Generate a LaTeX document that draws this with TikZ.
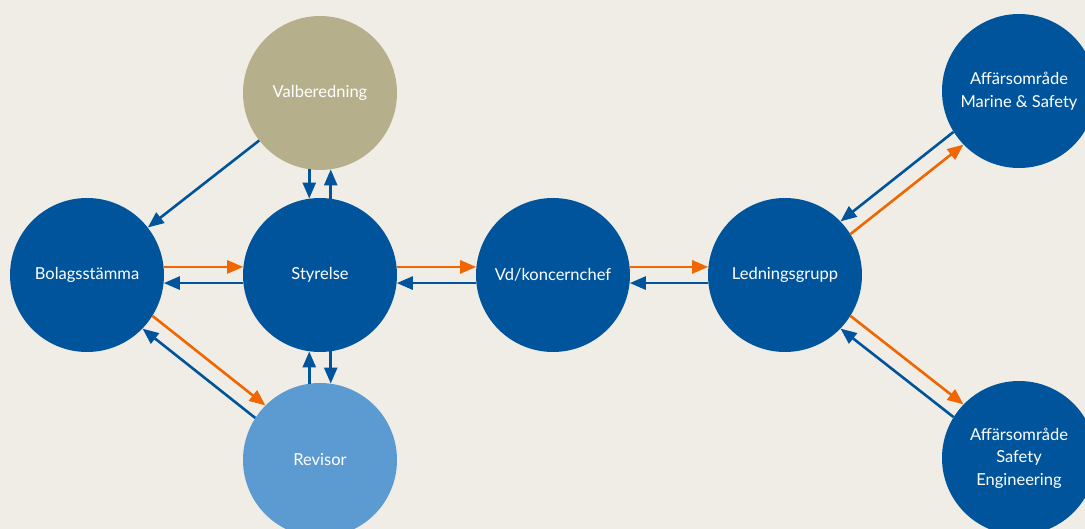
\documentclass[tikz,border=0pt]{standalone}
\usepackage{fontspec}
\setmainfont{Lato}
\usetikzlibrary{arrows.meta}

\definecolor{bgbeige}{RGB}{239,237,229}
\definecolor{govblue}{RGB}{0,84,155}
\definecolor{govolive}{RGB}{181,176,139}
\definecolor{govlight}{RGB}{91,155,210}
\definecolor{govorange}{RGB}{240,102,0}

\tikzset{
  unit/.style={circle, fill=govblue, text=white, minimum size=154pt,
    inner sep=0pt, align=center, font=\fontsize{16.5}{22.5}\selectfont},
  downarr/.style={govorange, line width=2.6pt,
    -{Triangle[length=16pt,width=13pt]}},
  uparr/.style={govblue, line width=2.6pt,
    -{Triangle[length=16pt,width=13pt]}},
}

\begin{document}
\begin{tikzpicture}[x=1pt,y=-1pt]

% Background and size of the page
\fill[bgbeige] (0,0) rectangle (1085,529);
\useasboundingbox (0,0) rectangle (1085,529);

% The bodies of the company
\node[unit, fill=govolive] (valb) at (320,93) {Valberedning};
\node[unit] (bolag) at (87,275) {Bolagsstämma};
\node[unit] (styr) at (320,275) {Styrelse};
\node[unit, fill=govlight] (rev) at (320,460) {Revisor};
\node[unit] (vd) at (553,275) {Vd/koncernchef};
\node[unit] (ledn) at (785,275) {Ledningsgrupp};
\node[unit] (marine) at (1019,91) {Affärsområde\\Marine \& Safety};
\node[unit] (eng) at (1019,458) {Affärsområde\\Safety\\Engineering};

% Orders go down the chain, reports come back
\draw[downarr] (bolag.6) -- (styr.174);
\draw[uparr] (styr.-174) -- (bolag.-6);
\draw[downarr] (styr.6) -- (vd.174);
\draw[uparr] (vd.-174) -- (styr.-6);
\draw[downarr] (vd.6) -- (ledn.174);
\draw[uparr] (ledn.-174) -- (vd.-6);

% Nomination committee
\draw[uparr] (valb) -- (bolag);
\draw[uparr] (valb.-98) -- (styr.98);
\draw[uparr] (styr.82) -- (valb.-82);

% Auditor
\draw[downarr] (bolag.-32.4) -- (rev.135.6);
\draw[uparr] (rev.147.6) -- (bolag.-44.4);
\draw[uparr] (styr.-82) -- (rev.82);
\draw[uparr] (rev.98) -- (styr.-98);

% Business areas
\draw[downarr] (ledn.32.2) -- (marine.224.2);
\draw[uparr] (marine.212.2) -- (ledn.44.2);
\draw[downarr] (ledn.-32) -- (eng.136);
\draw[uparr] (eng.148) -- (ledn.-44);
\end{tikzpicture}
\end{document}
